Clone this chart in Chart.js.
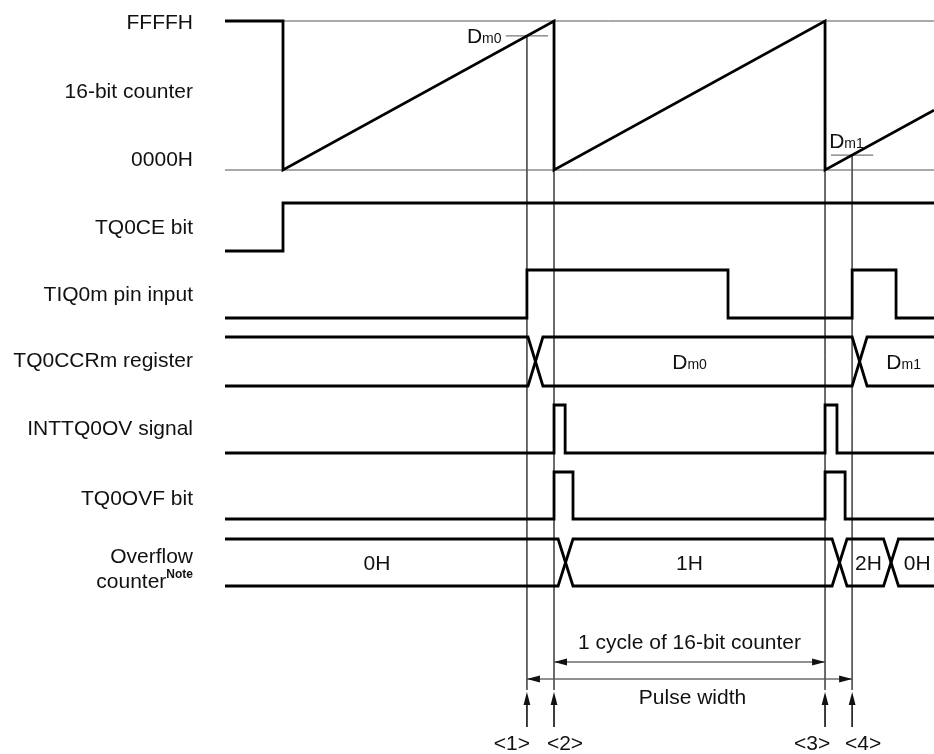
<!DOCTYPE html>
<html lang="en">
<head>
<meta charset="UTF-8">
<title>Pulse width measurement timing</title>
<script src="https://cdn.jsdelivr.net/npm/chart.js@4"></script>
<style>
  html, body { margin: 0; padding: 0; background: #fff; }
  #wrap { width: 934px; height: 754px; }
</style>
</head>
<body>
<div id="wrap"><canvas id="timing" width="934" height="754"></canvas></div>
<script>
// time axis: 1.0 = one full cycle of the 16-bit counter, counter starts at t = 0
const tStart = -0.214;
const tEnd = 2.402;

// 16-bit counter (counts)
const counterT = [tStart, 0, 0, 1, 1, 2, 2, tEnd];
const counterV = [0xFFFF, 0xFFFF, 0, 0xFFFF, 0, 0xFFFF, 0, 0x66E9];

// capture points <1>..<4> and captured values Dm0 / Dm1
const eventT = [0.9, 1, 2, 2.1];
const eventNames = ['<1>', '<2>', '<3>', '<4>'];
const captureT = [0.9, 2.1];
const captureV = [0xE666, 0x1999];
const captureNames = ['m0', 'm1'];

// digital signals: start level + edge times
const tq0ceInit = 0, tq0ceEdges = [0];
const tiq0mInit = 0, tiq0mEdges = [0.9, 1.642, 2.1, 2.262];
const intovInit = 0, intovEdges = [1, 1.041, 2, 2.044];
const ovfInit = 0, ovfEdges = [1, 1.07, 2, 2.074];

// bus signals: change times, values, where the value text sits
const ccrCross = [0.904, 2.1];
const ccrValues = [null, 'm0', 'm1'];
const ccrLabelT = [null, 1.5, 2.29];
const ovcCross = [1.015, 2.026, 2.216];
const ovcValues = ['0H', '1H', '2H', '0H'];
const ovcLabelT = [0.347, 1.5, 2.16, 2.34];

const signalNames = ['FFFFH', '16-bit counter', '0000H', 'TQ0CE bit', 'TIQ0m pin input',
  'TQ0CCRm register', 'INTTQ0OV signal', 'TQ0OVF bit'];

// ---- layout (pixels on the y scale) ----
const rows = {
  counter: { hi: 21, lo: 170 },
  tq0ce: { hi: 203, lo: 251 },
  tiq0m: { hi: 270, lo: 318 },
  ccr: { hi: 337, lo: 386 },
  intov: { hi: 405, lo: 453 },
  ovf: { hi: 472, lo: 519 },
  ovc: { hi: 539, lo: 586 }
};
const labelY = [23, 92, 160, 228, 295, 361, 429, 499];
const labelRight = 193;
const guideBottom = 690;
const cycleY = 662, pulseY = 679;
const upArrowTop = 692, upArrowBottom = 727;
const eventLabelDx = [-15, 11, -13, 11];
const crossW = 0.055;
const tickHalf = 0.078;
const FONT = '"Liberation Sans", Arial, Helvetica, sans-serif';
const INK = '#000', TXT = '#111', THIN = '#555';

function lv(row, level) { return row.lo - level * (row.lo - row.hi); }
function cy(v) { return lv(rows.counter, v / 0xFFFF); }

function stepPath(init, edges, row) {
  let l = init;
  const pts = [{ x: tStart, y: lv(row, l) }];
  edges.forEach(e => {
    pts.push({ x: e, y: lv(row, l) });
    l = 1 - l;
    pts.push({ x: e, y: lv(row, l) });
  });
  pts.push({ x: tEnd, y: lv(row, l) });
  return pts;
}

function busPaths(cross, row) {
  let la = 1;
  const a = [{ x: tStart, y: lv(row, 1) }], b = [{ x: tStart, y: lv(row, 0) }];
  cross.forEach(c => {
    a.push({ x: c, y: lv(row, la) });
    b.push({ x: c, y: lv(row, 1 - la) });
    la = 1 - la;
    a.push({ x: c + crossW, y: lv(row, la) });
    b.push({ x: c + crossW, y: lv(row, 1 - la) });
  });
  a.push({ x: tEnd, y: lv(row, la) });
  b.push({ x: tEnd, y: lv(row, 1 - la) });
  return [a, b];
}

function thick(pts) {
  return { data: pts, showLine: true, borderColor: INK, borderWidth: 2.8, pointRadius: 0,
    fill: false, tension: 0, clip: false, order: 1, borderJoinStyle: 'miter', borderCapStyle: 'butt' };
}
function thin(pts, color) {
  return { data: pts, showLine: true, borderColor: color || THIN, borderWidth: 1, pointRadius: 0,
    fill: false, tension: 0, clip: false, order: 2 };
}

const datasets = [];
// counter
datasets.push(thick(counterT.map((t, i) => ({ x: t, y: cy(counterV[i]) }))));
datasets.push(thin([{ x: 0, y: cy(0xFFFF) }, { x: tEnd, y: cy(0xFFFF) }]));
datasets.push(thin([{ x: tStart, y: cy(0) }, { x: tEnd, y: cy(0) }]));
// capture ticks on the counter
captureT.forEach((t, i) => {
  datasets.push(thin([{ x: t - tickHalf, y: cy(captureV[i]) }, { x: t + tickHalf, y: cy(captureV[i]) }]));
});
// vertical guides
const guideTopV = [captureV[0], 0xFFFF, 0xFFFF, captureV[1]];
eventT.forEach((t, i) => {
  datasets.push(thin([{ x: t, y: cy(guideTopV[i]) }, { x: t, y: guideBottom }]));
});
// digital rows
datasets.push(thick(stepPath(tq0ceInit, tq0ceEdges, rows.tq0ce)));
datasets.push(thick(stepPath(tiq0mInit, tiq0mEdges, rows.tiq0m)));
datasets.push(thick(stepPath(intovInit, intovEdges, rows.intov)));
datasets.push(thick(stepPath(ovfInit, ovfEdges, rows.ovf)));
// buses
busPaths(ccrCross, rows.ccr).forEach(p => datasets.push(thick(p)));
busPaths(ovcCross, rows.ovc).forEach(p => datasets.push(thick(p)));
// dimension lines
datasets.push(thin([{ x: eventT[1], y: cycleY }, { x: eventT[2], y: cycleY }], '#222'));
datasets.push(thin([{ x: eventT[0], y: pulseY }, { x: eventT[3], y: pulseY }], '#222'));
eventT.forEach(t => {
  datasets.push(thin([{ x: t, y: upArrowTop + 8 }, { x: t, y: upArrowBottom }], '#222'));
});

function text(ctx, s, x, y, align, size, bold) {
  ctx.font = (bold ? 'bold ' : '') + size + 'px ' + FONT;
  ctx.textAlign = align;
  ctx.textBaseline = 'middle';
  ctx.fillText(s, x, y);
}
// "D" with a small subscript, centered at x unless align given
function dText(ctx, sub, x, y, align) {
  ctx.font = '21px ' + FONT;
  const wD = ctx.measureText('D').width;
  ctx.font = '14px ' + FONT;
  const wS = ctx.measureText(sub).width;
  let left = x - (wD + wS) / 2;
  if (align === 'left') left = x;
  if (align === 'right') left = x - wD - wS;
  ctx.textAlign = 'left';
  ctx.textBaseline = 'alphabetic';
  ctx.font = '21px ' + FONT;
  ctx.fillText('D', left, y + 7.5);
  ctx.font = '14px ' + FONT;
  ctx.fillText(sub, left + wD, y + 7.5);
}
function head(ctx, x, y, dir) {
  const L = 13, W = 3.4;
  ctx.beginPath();
  ctx.moveTo(x, y);
  if (dir === 'left') { ctx.lineTo(x + L, y - W); ctx.lineTo(x + L, y + W); }
  if (dir === 'right') { ctx.lineTo(x - L, y - W); ctx.lineTo(x - L, y + W); }
  if (dir === 'up') { ctx.lineTo(x - W, y + L); ctx.lineTo(x + W, y + L); }
  ctx.closePath();
  ctx.fill();
}

const annotate = {
  id: 'annotate',
  afterDatasetsDraw(chart) {
    const ctx = chart.ctx, xs = chart.scales.x;
    const px = t => xs.getPixelForValue(t);
    ctx.save();
    ctx.fillStyle = TXT;
    signalNames.forEach((s, i) => text(ctx, s, labelRight, labelY[i], 'right', 21));
    // Overflow counter with Note
    ctx.font = 'bold 12px ' + FONT;
    const wNote = ctx.measureText('Note').width;
    text(ctx, 'Overflow', labelRight, 557, 'right', 21);
    text(ctx, 'counter', labelRight - wNote, 582, 'right', 21);
    text(ctx, 'Note', labelRight - wNote, 575, 'left', 12, true);
    // captured values next to the counter
    dText(ctx, captureNames[0], px(captureT[0]) - 60, cy(captureV[0]), 'left');
    dText(ctx, captureNames[1], px(captureT[1]) - 23, cy(captureV[1]) - 15, 'left');
    // bus values
    ccrValues.forEach((v, i) => { if (v) dText(ctx, v, px(ccrLabelT[i]), lv(rows.ccr, 0.5)); });
    ovcValues.forEach((v, i) => text(ctx, v, px(ovcLabelT[i]), lv(rows.ovc, 0.5) + 2, 'center', 21));
    // dimension arrows
    ctx.fillStyle = '#111';
    head(ctx, px(eventT[1]), cycleY, 'left');
    head(ctx, px(eventT[2]), cycleY, 'right');
    head(ctx, px(eventT[0]), pulseY, 'left');
    head(ctx, px(eventT[3]), pulseY, 'right');
    text(ctx, '1 cycle of 16-bit counter', px((eventT[1] + eventT[2]) / 2), 643, 'center', 21);
    text(ctx, 'Pulse width', px((eventT[0] + eventT[3]) / 2) + 3, 698, 'center', 21);
    eventT.forEach((t, i) => {
      head(ctx, px(t), upArrowTop, 'up');
      text(ctx, eventNames[i], px(t) + eventLabelDx[i], 744, 'center', 21);
    });
    ctx.restore();
  }
};

new Chart(document.getElementById('timing'), {
  type: 'scatter',
  data: { datasets },
  options: {
    responsive: false,
    animation: false,
    events: [],
    layout: { padding: { left: 225, right: 0, top: 0, bottom: 0 } },
    plugins: { legend: { display: false }, tooltip: { enabled: false } },
    scales: {
      x: { type: 'linear', display: false, min: tStart, max: tEnd },
      y: { type: 'linear', display: false, min: 0, max: 754, reverse: true }
    }
  },
  plugins: [annotate]
});
</script>
</body>
</html>
